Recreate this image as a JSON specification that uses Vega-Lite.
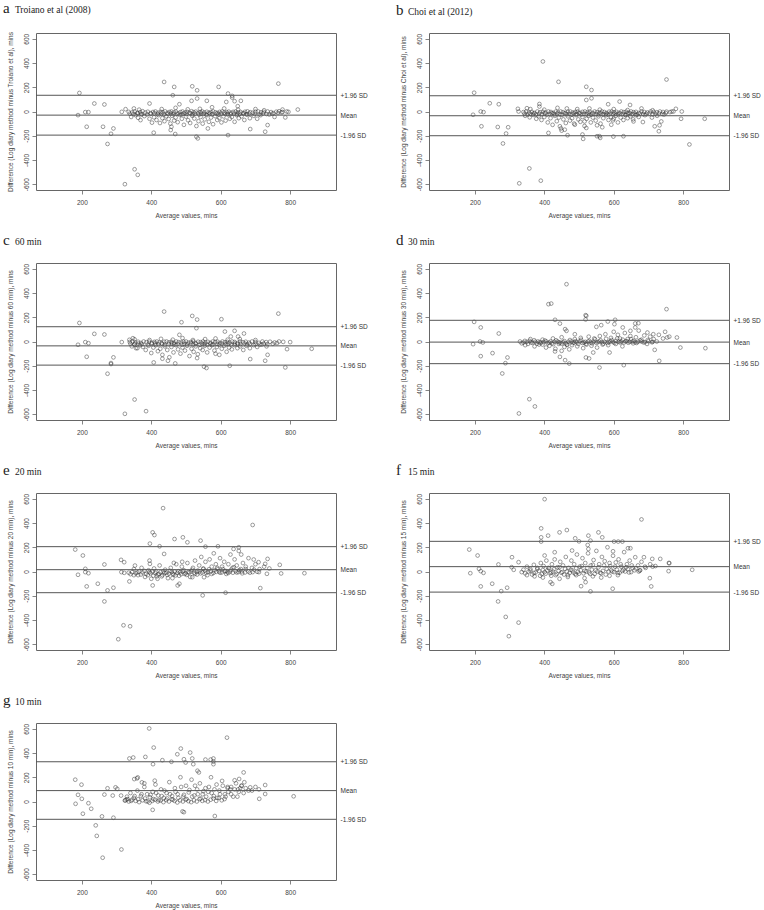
{
"$schema": "https://vega.github.io/schema/vega-lite/v6.json",
"background": "white",
"padding": {"left": 2, "top": 0, "right": 0, "bottom": 0},
"columns": 2,
"bounds": "flush",
"spacing": {"row": 73, "column": 93},
"config": {
 "view": {"stroke": "#666", "strokeWidth": 1},
 "axis": {"labelFont": "Liberation Sans", "titleFont": "Liberation Sans", "labelFontSize": 6.5, "titleFontSize": 6.5, "labelColor": "#444", "titleColor": "#444", "titleFontWeight": "normal", "tickColor": "#666", "tickSize": 4, "tickWidth": 0.8, "domain": false, "grid": false},
 "axisX": {"labelPadding": 5, "titlePadding": 7},
 "axisLeft": {"labelAngle": 270, "labelAlign": "center", "labelBaseline": "bottom", "labelPadding": 3, "titlePadding": 10, "labelExpr": "replace(datum.label, '\u2212', '-')"},
 "axisRight": {"ticks": false, "labelPadding": 4, "labelColor": "#333"},
 "title": {"anchor": "start", "frame": "bounds", "font": "Liberation Serif", "fontSize": 15, "fontWeight": "normal", "color": "#222", "subtitleFont": "Liberation Serif", "subtitleFontSize": 9.5, "subtitleColor": "#222", "subtitlePadding": -11, "offset": 15, "dx": -4},
 "point": {"shape": "circle", "size": 14, "strokeWidth": 0.6, "color": "#333", "opacity": 0.8, "filled": false},
 "rule": {"color": "#555", "strokeWidth": 1}
},
"concat": [
 {"title": {"text": "a", "subtitle": "\u200b\u00a0\u00a0\u00a0\u00a0\u00a0Troiano et al (2008)"}, "width": 300, "height": 157,
  "layer": [
   {"data": {"name": "a"}, "mark": "point",
    "encoding": {"x": {"field": "x", "type": "quantitative", "scale": {"domain": [68, 932], "nice": false, "zero": false}, "axis": {"title": "Average values, mins", "values": [200, 400, 600, 800]}},
                 "y": {"field": "y", "type": "quantitative", "scale": {"domain": [-648, 648], "nice": false, "zero": false}, "axis": {"title": "Difference (Log diary method minus Troiano et al), mins", "values": [-600, -400, -200, 0, 200, 400, 600]}}}},
   {"data": {"values": [{"v": 134}, {"v": -30}, {"v": -195}]}, "mark": "rule",
    "encoding": {"y": {"field": "v", "type": "quantitative", "scale": {"domain": [-648, 648], "nice": false, "zero": false}, "axis": {"orient": "right", "title": null, "values": [134, -30, -195], "labelExpr": "datum.value == 134 ? '+1.96 SD' : datum.value == -30 ? 'Mean' : '-1.96 SD'"}}}}
  ], "resolve": {"axis": {"y": "independent"}}},
 {"title": {"text": "b", "subtitle": "\u200b\u00a0\u00a0\u00a0\u00a0\u00a0Choi et al (2012)"}, "width": 300, "height": 157,
  "layer": [
   {"data": {"name": "b"}, "mark": "point",
    "encoding": {"x": {"field": "x", "type": "quantitative", "scale": {"domain": [68, 932], "nice": false, "zero": false}, "axis": {"title": "Average values, mins", "values": [200, 400, 600, 800]}},
                 "y": {"field": "y", "type": "quantitative", "scale": {"domain": [-648, 648], "nice": false, "zero": false}, "axis": {"title": "Difference (Log diary method minus Choi et al), mins", "values": [-600, -400, -200, 0, 200, 400, 600]}}}},
   {"data": {"values": [{"v": 130}, {"v": -35}, {"v": -200}]}, "mark": "rule",
    "encoding": {"y": {"field": "v", "type": "quantitative", "scale": {"domain": [-648, 648], "nice": false, "zero": false}, "axis": {"orient": "right", "title": null, "values": [130, -35, -200], "labelExpr": "datum.value == 130 ? '+1.96 SD' : datum.value == -35 ? 'Mean' : '-1.96 SD'"}}}}
  ], "resolve": {"axis": {"y": "independent"}}},
 {"title": {"text": "c", "subtitle": "\u200b\u00a0\u00a0\u00a0\u00a0\u00a060 min"}, "width": 300, "height": 157,
  "layer": [
   {"data": {"name": "c"}, "mark": "point",
    "encoding": {"x": {"field": "x", "type": "quantitative", "scale": {"domain": [68, 932], "nice": false, "zero": false}, "axis": {"title": "Average values, mins", "values": [200, 400, 600, 800]}},
                 "y": {"field": "y", "type": "quantitative", "scale": {"domain": [-648, 648], "nice": false, "zero": false}, "axis": {"title": "Difference (Log diary method minus 60 min), mins", "values": [-600, -400, -200, 0, 200, 400, 600]}}}},
   {"data": {"values": [{"v": 122}, {"v": -36}, {"v": -195}]}, "mark": "rule",
    "encoding": {"y": {"field": "v", "type": "quantitative", "scale": {"domain": [-648, 648], "nice": false, "zero": false}, "axis": {"orient": "right", "title": null, "values": [122, -36, -195], "labelExpr": "datum.value == 122 ? '+1.96 SD' : datum.value == -36 ? 'Mean' : '-1.96 SD'"}}}}
  ], "resolve": {"axis": {"y": "independent"}}},
 {"title": {"text": "d", "subtitle": "\u200b\u00a0\u00a0\u00a0\u00a0\u00a030 min"}, "width": 300, "height": 157,
  "layer": [
   {"data": {"name": "d"}, "mark": "point",
    "encoding": {"x": {"field": "x", "type": "quantitative", "scale": {"domain": [68, 932], "nice": false, "zero": false}, "axis": {"title": "Average values, mins", "values": [200, 400, 600, 800]}},
                 "y": {"field": "y", "type": "quantitative", "scale": {"domain": [-648, 648], "nice": false, "zero": false}, "axis": {"title": "Difference (Log diary method minus 30 min), mins", "values": [-600, -400, -200, 0, 200, 400, 600]}}}},
   {"data": {"values": [{"v": 175}, {"v": -5}, {"v": -183}]}, "mark": "rule",
    "encoding": {"y": {"field": "v", "type": "quantitative", "scale": {"domain": [-648, 648], "nice": false, "zero": false}, "axis": {"orient": "right", "title": null, "values": [175, -5, -183], "labelExpr": "datum.value == 175 ? '+1.96 SD' : datum.value == -5 ? 'Mean' : '-1.96 SD'"}}}}
  ], "resolve": {"axis": {"y": "independent"}}},
 {"title": {"text": "e", "subtitle": "\u200b\u00a0\u00a0\u00a0\u00a0\u00a020 min"}, "width": 300, "height": 157,
  "layer": [
   {"data": {"name": "e"}, "mark": "point",
    "encoding": {"x": {"field": "x", "type": "quantitative", "scale": {"domain": [68, 932], "nice": false, "zero": false}, "axis": {"title": "Average values, mins", "values": [200, 400, 600, 800]}},
                 "y": {"field": "y", "type": "quantitative", "scale": {"domain": [-648, 648], "nice": false, "zero": false}, "axis": {"title": "Difference (Log diary method minus 20 min), mins", "values": [-600, -400, -200, 0, 200, 400, 600]}}}},
   {"data": {"values": [{"v": 205}, {"v": 15}, {"v": -175}]}, "mark": "rule",
    "encoding": {"y": {"field": "v", "type": "quantitative", "scale": {"domain": [-648, 648], "nice": false, "zero": false}, "axis": {"orient": "right", "title": null, "values": [205, 15, -175], "labelExpr": "datum.value == 205 ? '+1.96 SD' : datum.value == 15 ? 'Mean' : '-1.96 SD'"}}}}
  ], "resolve": {"axis": {"y": "independent"}}},
 {"title": {"text": "f", "subtitle": "\u200b\u00a0\u00a0\u00a0\u00a0\u00a015 min"}, "width": 300, "height": 157,
  "layer": [
   {"data": {"name": "f"}, "mark": "point",
    "encoding": {"x": {"field": "x", "type": "quantitative", "scale": {"domain": [68, 932], "nice": false, "zero": false}, "axis": {"title": "Average values, mins", "values": [200, 400, 600, 800]}},
                 "y": {"field": "y", "type": "quantitative", "scale": {"domain": [-648, 648], "nice": false, "zero": false}, "axis": {"title": "Difference (Log diary method minus 15 min), mins", "values": [-600, -400, -200, 0, 200, 400, 600]}}}},
   {"data": {"values": [{"v": 249}, {"v": 40}, {"v": -170}]}, "mark": "rule",
    "encoding": {"y": {"field": "v", "type": "quantitative", "scale": {"domain": [-648, 648], "nice": false, "zero": false}, "axis": {"orient": "right", "title": null, "values": [249, 40, -170], "labelExpr": "datum.value == 249 ? '+1.96 SD' : datum.value == 40 ? 'Mean' : '-1.96 SD'"}}}}
  ], "resolve": {"axis": {"y": "independent"}}},
 {"title": {"text": "g", "subtitle": "\u200b\u00a0\u00a0\u00a0\u00a0\u00a010 min"}, "width": 300, "height": 157,
  "layer": [
   {"data": {"name": "g"}, "mark": "point",
    "encoding": {"x": {"field": "x", "type": "quantitative", "scale": {"domain": [68, 932], "nice": false, "zero": false}, "axis": {"title": "Average values, mins", "values": [200, 400, 600, 800]}},
                 "y": {"field": "y", "type": "quantitative", "scale": {"domain": [-648, 648], "nice": false, "zero": false}, "axis": {"title": "Difference (Log diary method minus 10 min), mins", "values": [-600, -400, -200, 0, 200, 400, 600]}}}},
   {"data": {"values": [{"v": 328}, {"v": 90}, {"v": -147}]}, "mark": "rule",
    "encoding": {"y": {"field": "v", "type": "quantitative", "scale": {"domain": [-648, 648], "nice": false, "zero": false}, "axis": {"orient": "right", "title": null, "values": [328, 90, -147], "labelExpr": "datum.value == 328 ? '+1.96 SD' : datum.value == 90 ? 'Mean' : '-1.96 SD'"}}}}
  ], "resolve": {"axis": {"y": "independent"}}}
],
"datasets": {
"a": [
{"x":193,"y":153},{"x":189,"y":-30},{"x":210,"y":-5},{"x":219,"y":-5},{"x":236,"y":66},{"x":265,"y":58},{"x":214,"y":-126},{"x":261,"y":-126},{"x":291,"y":-140},{"x":284,"y":-184},{"x":274,"y":-268},{"x":324,"y":-600},{"x":352,"y":-477},{"x":361,"y":-523},{"x":437,"y":244},{"x":466,"y":203},{"x":462,"y":134},{"x":518,"y":208},{"x":532,"y":175},{"x":594,"y":203},{"x":766,"y":230},{"x":621,"y":148},{"x":633,"y":129},{"x":633,"y":115},{"x":532,"y":107},{"x":516,"y":88},{"x":481,"y":60},{"x":560,"y":88},{"x":616,"y":79},{"x":640,"y":85},{"x":649,"y":44},{"x":658,"y":88},{"x":822,"y":16},{"x":778,"y":16},{"x":795,"y":-3},{"x":786,"y":-49},{"x":735,"y":-112},{"x":728,"y":-167},{"x":685,"y":-145},{"x":621,"y":-195},{"x":469,"y":-186},{"x":407,"y":-175},{"x":456,"y":-153},{"x":458,"y":-126},{"x":530,"y":-208},{"x":534,"y":-222},{"x":563,"y":-140},{"x":395,"y":66},{"x":326,"y":19},{"x":315,"y":-3},{"x":369,"y":-71},
{"x":335,"y":-3},{"x":345,"y":-8},{"x":352,"y":0},{"x":360,"y":-12},{"x":368,"y":-5},{"x":375,"y":2},{"x":383,"y":-9},{"x":390,"y":-2},{"x":398,"y":-14},{"x":405,"y":-4},{"x":412,"y":0},{"x":420,"y":-10},{"x":427,"y":-3},{"x":433,"y":-7},{"x":440,"y":1},{"x":446,"y":-12},{"x":452,"y":-4},{"x":458,"y":0},{"x":465,"y":-8},{"x":471,"y":-2},{"x":478,"y":-15},{"x":484,"y":-5},{"x":490,"y":0},{"x":497,"y":-9},{"x":503,"y":-3},{"x":510,"y":-11},{"x":516,"y":2},{"x":522,"y":-6},{"x":528,"y":-1},{"x":535,"y":-13},{"x":541,"y":-4},{"x":547,"y":0},{"x":553,"y":-8},{"x":560,"y":-2},{"x":566,"y":-10},{"x":572,"y":-4},{"x":578,"y":1},{"x":585,"y":-7},{"x":591,"y":-12},{"x":597,"y":-3},{"x":604,"y":0},{"x":610,"y":-9},{"x":617,"y":-5},{"x":623,"y":-1},{"x":630,"y":-11},{"x":636,"y":-3},{"x":643,"y":0},{"x":650,"y":-8},{"x":657,"y":-4},{"x":664,"y":-13},{"x":670,"y":-2},{"x":677,"y":1},{"x":685,"y":-6},{"x":692,"y":-10},{"x":700,"y":-2},{"x":708,"y":0},{"x":716,"y":-7},{"x":724,"y":-3},{"x":735,"y":0},{"x":745,"y":-5},{"x":752,"y":-14},{"x":760,"y":-2},{"x":768,"y":2},{"x":778,"y":-4},{"x":790,"y":0},
{"x":338,"y":-18},{"x":349,"y":-22},{"x":361,"y":-16},{"x":371,"y":-20},{"x":388,"y":-24},{"x":399,"y":-19},{"x":409,"y":-15},{"x":418,"y":-22},{"x":429,"y":-18},{"x":437,"y":-25},{"x":448,"y":-20},{"x":457,"y":-16},{"x":463,"y":-22},{"x":474,"y":-19},{"x":487,"y":-24},{"x":493,"y":-17},{"x":501,"y":-21},{"x":513,"y":-15},{"x":519,"y":-23},{"x":526,"y":-18},{"x":538,"y":-26},{"x":544,"y":-16},{"x":551,"y":-20},{"x":558,"y":-24},{"x":569,"y":-17},{"x":575,"y":-22},{"x":588,"y":-19},{"x":594,"y":-25},{"x":601,"y":-16},{"x":613,"y":-21},{"x":620,"y":-18},{"x":628,"y":-24},{"x":639,"y":-17},{"x":647,"y":-22},{"x":655,"y":-19},{"x":667,"y":-16},{"x":674,"y":-23},{"x":682,"y":-18},{"x":698,"y":-20},{"x":711,"y":-24},{"x":722,"y":-16},{"x":732,"y":-21},{"x":748,"y":-18},{"x":765,"y":-12},{"x":775,"y":-8},
{"x":342,"y":-45},{"x":355,"y":-30},{"x":362,"y":-52},{"x":372,"y":-25},{"x":380,"y":-38},{"x":395,"y":-60},{"x":402,"y":-92},{"x":408,"y":-48},{"x":415,"y":-70},{"x":421,"y":-30},{"x":425,"y":-95},{"x":432,"y":-55},{"x":438,"y":-80},{"x":443,"y":-40},{"x":450,"y":-62},{"x":455,"y":-100},{"x":460,"y":-35},{"x":466,"y":-75},{"x":470,"y":-50},{"x":476,"y":-88},{"x":482,"y":-28},{"x":488,"y":-60},{"x":494,"y":-110},{"x":500,"y":-42},{"x":506,"y":-72},{"x":512,"y":-95},{"x":518,"y":-35},{"x":524,"y":-58},{"x":530,"y":-120},{"x":536,"y":-80},{"x":542,"y":-45},{"x":548,"y":-100},{"x":554,"y":-65},{"x":560,"y":-30},{"x":566,"y":-85},{"x":572,"y":-50},{"x":578,"y":-105},{"x":584,"y":-38},{"x":590,"y":-70},{"x":596,"y":-55},{"x":602,"y":-90},{"x":608,"y":-40},{"x":614,"y":-75},{"x":620,"y":-25},{"x":626,"y":-60},{"x":632,"y":-45},{"x":640,"y":-85},{"x":646,"y":-30},{"x":652,"y":-55},{"x":660,"y":-40},{"x":668,"y":-70},{"x":676,"y":-25},{"x":684,"y":-55},{"x":695,"y":-35},{"x":705,"y":-60},{"x":715,"y":-30},{"x":740,"y":-25},{"x":755,"y":-45},
{"x":350,"y":25},{"x":365,"y":15},{"x":430,"y":20},{"x":470,"y":30},{"x":505,"y":18},{"x":540,"y":22},{"x":575,"y":35},{"x":610,"y":25},{"x":650,"y":15},{"x":700,"y":20},{"x":725,"y":10}
],
"b": [
{"x":198,"y":155},{"x":195,"y":-27},{"x":217,"y":0},{"x":225,"y":-5},{"x":243,"y":68},{"x":269,"y":60},{"x":219,"y":-122},{"x":266,"y":-128},{"x":296,"y":-130},{"x":290,"y":-182},{"x":281,"y":-264},{"x":328,"y":-593},{"x":357,"y":-470},{"x":390,"y":-571},{"x":396,"y":413},{"x":441,"y":245},{"x":521,"y":204},{"x":536,"y":177},{"x":521,"y":95},{"x":536,"y":109},{"x":752,"y":264},{"x":617,"y":82},{"x":647,"y":54},{"x":584,"y":60},{"x":386,"y":62},{"x":386,"y":41},{"x":350,"y":27},{"x":326,"y":0},{"x":324,"y":22},{"x":818,"y":-272},{"x":862,"y":-60},{"x":794,"y":-60},{"x":796,"y":0},{"x":779,"y":22},{"x":767,"y":0},{"x":732,"y":-114},{"x":730,"y":-163},{"x":718,"y":-122},{"x":684,"y":-87},{"x":599,"y":-207},{"x":628,"y":-204},{"x":559,"y":-204},{"x":561,"y":-218},{"x":552,"y":-204},{"x":512,"y":-226},{"x":510,"y":-190},{"x":467,"y":-196},{"x":412,"y":-177},{"x":450,"y":-158},{"x":459,"y":-150},{"x":445,"y":-122},{"x":521,"y":-136},{"x":516,"y":-82},{"x":488,"y":-109},{"x":552,"y":-114},{"x":567,"y":-130},{"x":593,"y":-109},{"x":598,"y":-73},{"x":657,"y":-82},{"x":737,"y":-82},
{"x":340,"y":-5},{"x":348,"y":0},{"x":356,"y":-10},{"x":364,"y":-3},{"x":372,"y":-12},{"x":380,"y":0},{"x":388,"y":-6},{"x":396,"y":-2},{"x":404,"y":-10},{"x":412,"y":0},{"x":419,"y":-4},{"x":426,"y":-12},{"x":433,"y":-1},{"x":440,"y":-8},{"x":447,"y":0},{"x":454,"y":-5},{"x":461,"y":-13},{"x":468,"y":-2},{"x":475,"y":0},{"x":482,"y":-9},{"x":489,"y":-4},{"x":496,"y":0},{"x":503,"y":-11},{"x":510,"y":-3},{"x":517,"y":0},{"x":524,"y":-7},{"x":531,"y":-2},{"x":538,"y":-12},{"x":545,"y":0},{"x":552,"y":-5},{"x":559,"y":-9},{"x":566,"y":0},{"x":573,"y":-4},{"x":580,"y":-13},{"x":587,"y":-1},{"x":594,"y":0},{"x":601,"y":-8},{"x":608,"y":-3},{"x":615,"y":-11},{"x":622,"y":0},{"x":629,"y":-5},{"x":636,"y":-2},{"x":643,"y":-10},{"x":650,"y":0},{"x":657,"y":-6},{"x":664,"y":-3},{"x":672,"y":-12},{"x":680,"y":0},{"x":688,"y":-4},{"x":697,"y":-8},{"x":706,"y":0},{"x":715,"y":-3},{"x":724,"y":-6},{"x":733,"y":0},{"x":742,"y":-4},{"x":752,"y":-1},{"x":762,"y":-5},{"x":772,"y":0},
{"x":343,"y":-18},{"x":352,"y":-24},{"x":360,"y":-20},{"x":369,"y":-16},{"x":376,"y":-25},{"x":385,"y":-19},{"x":393,"y":-22},{"x":401,"y":-17},{"x":408,"y":-26},{"x":415,"y":-20},{"x":422,"y":-15},{"x":429,"y":-23},{"x":437,"y":-18},{"x":444,"y":-21},{"x":451,"y":-27},{"x":458,"y":-16},{"x":465,"y":-22},{"x":472,"y":-19},{"x":479,"y":-25},{"x":486,"y":-17},{"x":493,"y":-21},{"x":500,"y":-15},{"x":507,"y":-24},{"x":514,"y":-19},{"x":521,"y":-22},{"x":528,"y":-16},{"x":535,"y":-26},{"x":542,"y":-18},{"x":549,"y":-21},{"x":556,"y":-24},{"x":563,"y":-17},{"x":570,"y":-22},{"x":577,"y":-19},{"x":584,"y":-25},{"x":591,"y":-16},{"x":598,"y":-21},{"x":605,"y":-18},{"x":612,"y":-23},{"x":619,"y":-17},{"x":626,"y":-20},{"x":633,"y":-26},{"x":640,"y":-19},{"x":647,"y":-16},{"x":654,"y":-22},{"x":661,"y":-18},{"x":668,"y":-24},{"x":676,"y":-17},{"x":685,"y":-21},{"x":694,"y":-19},{"x":703,"y":-16},{"x":712,"y":-22},{"x":720,"y":-18},{"x":730,"y":-15},{"x":740,"y":-20},{"x":750,"y":-12},
{"x":345,"y":-35},{"x":358,"y":-48},{"x":368,"y":-28},{"x":377,"y":-60},{"x":384,"y":-40},{"x":392,"y":-70},{"x":400,"y":-45},{"x":410,"y":-90},{"x":418,"y":-55},{"x":424,"y":-110},{"x":430,"y":-35},{"x":436,"y":-80},{"x":442,"y":-50},{"x":448,"y":-140},{"x":455,"y":-65},{"x":462,"y":-95},{"x":468,"y":-40},{"x":474,"y":-75},{"x":480,"y":-55},{"x":486,"y":-100},{"x":492,"y":-30},{"x":498,"y":-65},{"x":504,"y":-85},{"x":510,"y":-45},{"x":516,"y":-120},{"x":522,"y":-60},{"x":528,"y":-35},{"x":534,"y":-90},{"x":540,"y":-50},{"x":548,"y":-75},{"x":556,"y":-40},{"x":562,"y":-100},{"x":570,"y":-55},{"x":578,"y":-30},{"x":585,"y":-70},{"x":592,"y":-45},{"x":600,"y":-60},{"x":606,"y":-35},{"x":612,"y":-90},{"x":620,"y":-50},{"x":628,"y":-70},{"x":634,"y":-30},{"x":640,"y":-55},{"x":648,"y":-40},{"x":656,"y":-65},{"x":664,"y":-30},{"x":672,"y":-45},{"x":690,"y":-30},{"x":710,"y":-50},{"x":725,"y":-35},{"x":745,"y":-25},
{"x":360,"y":20},{"x":400,"y":15},{"x":438,"y":30},{"x":465,"y":25},{"x":495,"y":20},{"x":530,"y":25},{"x":560,"y":15},{"x":600,"y":20},{"x":640,"y":12},{"x":680,"y":25},{"x":712,"y":10}
],
"c": [
{"x":193,"y":153},{"x":189,"y":-27},{"x":210,"y":-5},{"x":219,"y":-14},{"x":236,"y":63},{"x":265,"y":58},{"x":214,"y":-126},{"x":291,"y":-131},{"x":284,"y":-178},{"x":284,"y":-186},{"x":274,"y":-266},{"x":324,"y":-597},{"x":352,"y":-479},{"x":385,"y":-575},{"x":437,"y":247},{"x":518,"y":211},{"x":532,"y":181},{"x":530,"y":110},{"x":487,"y":159},{"x":602,"y":184},{"x":766,"y":230},{"x":481,"y":55},{"x":612,"y":82},{"x":640,"y":88},{"x":667,"y":66},{"x":650,"y":41},{"x":629,"y":41},{"x":800,"y":-5},{"x":791,"y":-63},{"x":862,"y":-60},{"x":786,"y":-214},{"x":735,"y":-110},{"x":728,"y":-159},{"x":685,"y":-145},{"x":626,"y":-200},{"x":552,"y":-208},{"x":559,"y":-219},{"x":469,"y":-181},{"x":407,"y":-173},{"x":448,"y":-159},{"x":432,"y":-142},{"x":532,"y":-137},{"x":585,"y":-101},{"x":315,"y":-5},{"x":337,"y":14},{"x":347,"y":27},{"x":356,"y":-55},
{"x":338,"y":-4},{"x":346,"y":0},{"x":354,"y":-9},{"x":362,"y":-2},{"x":370,"y":-12},{"x":378,"y":0},{"x":386,"y":-6},{"x":394,"y":-1},{"x":402,"y":-11},{"x":409,"y":-3},{"x":416,"y":0},{"x":423,"y":-8},{"x":430,"y":-14},{"x":437,"y":-2},{"x":444,"y":0},{"x":451,"y":-7},{"x":458,"y":-3},{"x":465,"y":-12},{"x":472,"y":0},{"x":479,"y":-5},{"x":486,"y":-9},{"x":493,"y":-1},{"x":500,"y":0},{"x":507,"y":-10},{"x":514,"y":-4},{"x":521,"y":0},{"x":528,"y":-13},{"x":535,"y":-2},{"x":542,"y":-6},{"x":549,"y":0},{"x":556,"y":-9},{"x":563,"y":-3},{"x":570,"y":-11},{"x":577,"y":0},{"x":584,"y":-5},{"x":591,"y":-2},{"x":598,"y":-12},{"x":605,"y":0},{"x":612,"y":-6},{"x":619,"y":-3},{"x":626,"y":-10},{"x":633,"y":0},{"x":640,"y":-4},{"x":648,"y":-13},{"x":656,"y":0},{"x":664,"y":-6},{"x":672,"y":-2},{"x":681,"y":-9},{"x":690,"y":0},{"x":700,"y":-4},{"x":710,"y":-11},{"x":720,"y":0},{"x":731,"y":-5},{"x":742,"y":-2},{"x":755,"y":-8},{"x":768,"y":0},{"x":780,"y":-3},
{"x":340,"y":-19},{"x":351,"y":-23},{"x":363,"y":-17},{"x":373,"y":-21},{"x":390,"y":-25},{"x":401,"y":-18},{"x":411,"y":-16},{"x":420,"y":-23},{"x":431,"y":-19},{"x":439,"y":-26},{"x":450,"y":-21},{"x":459,"y":-17},{"x":466,"y":-23},{"x":476,"y":-20},{"x":489,"y":-25},{"x":495,"y":-18},{"x":503,"y":-22},{"x":515,"y":-16},{"x":521,"y":-24},{"x":528,"y":-19},{"x":540,"y":-27},{"x":546,"y":-17},{"x":553,"y":-21},{"x":560,"y":-25},{"x":571,"y":-18},{"x":577,"y":-23},{"x":590,"y":-20},{"x":596,"y":-26},{"x":603,"y":-17},{"x":615,"y":-22},{"x":622,"y":-19},{"x":630,"y":-25},{"x":641,"y":-18},{"x":649,"y":-23},{"x":657,"y":-20},{"x":669,"y":-17},{"x":676,"y":-24},{"x":684,"y":-19},{"x":700,"y":-21},{"x":713,"y":-25},{"x":724,"y":-17},{"x":734,"y":-22},{"x":750,"y":-19},{"x":762,"y":-13},
{"x":344,"y":-40},{"x":352,"y":-25},{"x":360,"y":-55},{"x":368,"y":-30},{"x":376,"y":-45},{"x":384,"y":-70},{"x":392,"y":-35},{"x":400,"y":-95},{"x":406,"y":-50},{"x":413,"y":-30},{"x":419,"y":-80},{"x":426,"y":-60},{"x":432,"y":-110},{"x":439,"y":-40},{"x":446,"y":-70},{"x":452,"y":-130},{"x":458,"y":-45},{"x":464,"y":-90},{"x":471,"y":-30},{"x":477,"y":-65},{"x":484,"y":-100},{"x":490,"y":-50},{"x":497,"y":-75},{"x":503,"y":-35},{"x":510,"y":-120},{"x":516,"y":-60},{"x":522,"y":-85},{"x":528,"y":-40},{"x":534,"y":-105},{"x":541,"y":-55},{"x":548,"y":-70},{"x":554,"y":-35},{"x":561,"y":-90},{"x":568,"y":-50},{"x":575,"y":-30},{"x":582,"y":-75},{"x":589,"y":-45},{"x":596,"y":-110},{"x":603,"y":-60},{"x":610,"y":-35},{"x":617,"y":-85},{"x":624,"y":-50},{"x":632,"y":-65},{"x":640,"y":-30},{"x":648,"y":-55},{"x":656,"y":-40},{"x":665,"y":-70},{"x":674,"y":-35},{"x":684,"y":-55},{"x":695,"y":-30},{"x":705,"y":-45},{"x":718,"y":-25},{"x":732,"y":-40},
{"x":352,"y":18},{"x":395,"y":12},{"x":428,"y":22},{"x":462,"y":15},{"x":490,"y":28},{"x":520,"y":12},{"x":555,"y":20},{"x":585,"y":25},{"x":620,"y":15},{"x":655,"y":20},{"x":700,"y":12}
],
"d": [
{"x":198,"y":162},{"x":195,"y":-22},{"x":217,"y":116},{"x":215,"y":0},{"x":223,"y":-8},{"x":217,"y":-121},{"x":251,"y":-96},{"x":269,"y":66},{"x":294,"y":-132},{"x":288,"y":-179},{"x":279,"y":-264},{"x":327,"y":-594},{"x":357,"y":-476},{"x":373,"y":-536},{"x":464,"y":473},{"x":412,"y":308},{"x":420,"y":313},{"x":431,"y":179},{"x":445,"y":148},{"x":519,"y":217},{"x":521,"y":212},{"x":519,"y":182},{"x":488,"y":60},{"x":460,"y":102},{"x":464,"y":88},{"x":752,"y":267},{"x":583,"y":165},{"x":550,"y":121},{"x":564,"y":135},{"x":602,"y":143},{"x":604,"y":179},{"x":626,"y":116},{"x":662,"y":149},{"x":662,"y":116},{"x":648,"y":88},{"x":697,"y":74},{"x":714,"y":60},{"x":748,"y":80},{"x":754,"y":33},{"x":782,"y":33},{"x":792,"y":-50},{"x":864,"y":-55},{"x":731,"y":-160},{"x":718,"y":-69},{"x":671,"y":151},{"x":559,"y":-215},{"x":629,"y":-195},{"x":472,"y":-182},{"x":460,"y":-154},{"x":445,"y":-127},{"x":520,"y":-132},{"x":529,"y":-140},{"x":541,"y":-91},{"x":588,"y":-91},{"x":450,"y":-77},{"x":431,"y":-82},
{"x":330,"y":0},{"x":340,"y":-8},{"x":350,"y":-3},{"x":358,"y":5},{"x":366,"y":-10},{"x":374,"y":-2},{"x":382,"y":0},{"x":390,"y":-12},{"x":398,"y":-5},{"x":406,"y":0},{"x":414,"y":-8},{"x":422,"y":-15},{"x":430,"y":-3},{"x":438,"y":0},{"x":446,"y":-10},{"x":454,"y":-5},{"x":462,"y":-14},{"x":470,"y":-2},{"x":478,"y":0},{"x":486,"y":-9},{"x":494,"y":-4},{"x":502,"y":0},{"x":510,"y":-12},{"x":518,"y":-3},{"x":526,"y":0},{"x":534,"y":-7},{"x":542,"y":-2},{"x":550,"y":-10},{"x":558,"y":0},{"x":566,"y":-5},{"x":574,"y":-3},{"x":582,"y":-12},{"x":590,"y":0},{"x":598,"y":-4},{"x":606,"y":5},{"x":614,"y":-2},{"x":622,"y":0},{"x":630,"y":-8},{"x":638,"y":3},{"x":646,"y":-3},{"x":654,"y":0},{"x":662,"y":-6},{"x":670,"y":-2},{"x":680,"y":0},{"x":690,"y":-5},{"x":700,"y":2},{"x":712,"y":-3},{"x":724,"y":0},
{"x":335,"y":-15},{"x":344,"y":5},{"x":353,"y":-20},{"x":362,"y":-8},{"x":371,"y":10},{"x":379,"y":-18},{"x":387,"y":-5},{"x":395,"y":-25},{"x":402,"y":8},{"x":410,"y":-15},{"x":418,"y":0},{"x":426,"y":-22},{"x":434,"y":10},{"x":442,"y":-6},{"x":450,"y":-18},{"x":458,"y":3},{"x":466,"y":-28},{"x":474,"y":12},{"x":482,"y":-12},{"x":490,"y":2},{"x":498,"y":-20},{"x":506,"y":14},{"x":514,"y":-8},{"x":522,"y":-25},{"x":530,"y":5},{"x":538,"y":-15},{"x":546,"y":18},{"x":554,"y":-6},{"x":562,"y":10},{"x":570,"y":-18},{"x":578,"y":22},{"x":586,"y":-5},{"x":594,"y":12},{"x":602,"y":-12},{"x":610,"y":25},{"x":618,"y":-8},{"x":626,"y":15},{"x":634,"y":2},{"x":642,"y":-10},{"x":650,"y":20},{"x":658,"y":5},{"x":666,"y":-12},{"x":676,"y":10},{"x":686,"y":-8},{"x":698,"y":12},{"x":710,"y":-6},
{"x":345,"y":-30},{"x":360,"y":20},{"x":372,"y":-40},{"x":385,"y":-25},{"x":395,"y":15},{"x":405,"y":-50},{"x":415,"y":-35},{"x":425,"y":25},{"x":432,"y":-60},{"x":442,"y":-20},{"x":450,"y":35},{"x":458,"y":-45},{"x":465,"y":-25},{"x":472,"y":-65},{"x":480,"y":-30},{"x":488,"y":20},{"x":495,"y":-40},{"x":505,"y":30},{"x":512,"y":-55},{"x":520,"y":-20},{"x":528,"y":40},{"x":536,"y":-35},{"x":544,"y":25},{"x":552,"y":-50},{"x":560,"y":45},{"x":568,"y":-25},{"x":576,"y":60},{"x":584,"y":-30},{"x":592,"y":30},{"x":600,"y":80},{"x":606,"y":-20},{"x":612,"y":55},{"x":618,"y":25},{"x":625,"y":-40},{"x":632,"y":70},{"x":640,"y":20},{"x":648,"y":45},{"x":656,"y":-15},{"x":664,"y":35},{"x":672,"y":90},{"x":680,"y":15},{"x":688,"y":50},{"x":696,"y":-20},{"x":705,"y":40},{"x":715,"y":20},{"x":730,"y":55},{"x":742,"y":25},{"x":760,"y":40}
],
"e": [
{"x":181,"y":181},{"x":189,"y":-27},{"x":203,"y":132},{"x":210,"y":22},{"x":210,"y":-5},{"x":219,"y":-14},{"x":214,"y":-123},{"x":246,"y":-101},{"x":265,"y":58},{"x":274,"y":-156},{"x":265,"y":-247},{"x":291,"y":-134},{"x":305,"y":-559},{"x":320,"y":-444},{"x":339,"y":-452},{"x":313,"y":96},{"x":322,"y":77},{"x":314,"y":-5},{"x":322,"y":-11},{"x":337,"y":-82},{"x":353,"y":49},{"x":396,"y":230},{"x":404,"y":323},{"x":409,"y":301},{"x":424,"y":208},{"x":434,"y":523},{"x":437,"y":145},{"x":395,"y":90},{"x":396,"y":63},{"x":467,"y":268},{"x":491,"y":282},{"x":504,"y":241},{"x":542,"y":255},{"x":556,"y":205},{"x":592,"y":208},{"x":637,"y":186},{"x":652,"y":200},{"x":659,"y":140},{"x":692,"y":384},{"x":695,"y":99},{"x":709,"y":77},{"x":735,"y":104},{"x":728,"y":63},{"x":733,"y":-19},{"x":714,"y":-137},{"x":770,"y":55},{"x":774,"y":-16},{"x":841,"y":-14},{"x":548,"y":-197},{"x":614,"y":-175},{"x":481,"y":-101},{"x":476,"y":-115},{"x":404,"y":-115},{"x":418,"y":-60},{"x":461,"y":-55},{"x":518,"y":-47},{"x":552,"y":-47},{"x":465,"y":71},{"x":489,"y":80},
{"x":335,"y":-10},{"x":345,"y":-5},{"x":355,"y":-15},{"x":365,"y":0},{"x":375,"y":-8},{"x":385,"y":-20},{"x":395,"y":-5},{"x":403,"y":0},{"x":411,"y":-12},{"x":419,"y":-25},{"x":427,"y":-5},{"x":435,"y":0},{"x":443,"y":-10},{"x":451,"y":-18},{"x":459,"y":-3},{"x":467,"y":0},{"x":475,"y":-12},{"x":483,"y":-6},{"x":491,"y":0},{"x":499,"y":-15},{"x":507,"y":-5},{"x":515,"y":0},{"x":523,"y":-10},{"x":531,"y":-3},{"x":539,"y":0},{"x":547,"y":-8},{"x":555,"y":5},{"x":563,"y":-5},{"x":571,"y":0},{"x":579,"y":-12},{"x":587,"y":-3},{"x":595,"y":0},{"x":603,"y":-8},{"x":611,"y":2},{"x":619,"y":-5},{"x":627,"y":0},{"x":635,"y":-10},{"x":643,"y":3},{"x":651,"y":-5},{"x":660,"y":0},{"x":670,"y":-8},{"x":680,"y":0},{"x":692,"y":-5},{"x":705,"y":-2},
{"x":340,"y":-22},{"x":350,"y":-30},{"x":360,"y":-8},{"x":370,"y":-25},{"x":380,"y":5},{"x":390,"y":-30},{"x":398,"y":-15},{"x":406,"y":-35},{"x":414,"y":-2},{"x":422,"y":-20},{"x":430,"y":-40},{"x":438,"y":-12},{"x":446,"y":-28},{"x":454,"y":5},{"x":462,"y":-18},{"x":470,"y":-32},{"x":478,"y":2},{"x":486,"y":-22},{"x":494,"y":10},{"x":502,"y":-28},{"x":510,"y":-8},{"x":518,"y":15},{"x":526,"y":-20},{"x":534,"y":8},{"x":542,"y":-15},{"x":550,"y":25},{"x":558,"y":-12},{"x":566,"y":18},{"x":574,"y":-20},{"x":582,"y":10},{"x":590,"y":30},{"x":598,"y":-10},{"x":606,"y":20},{"x":614,"y":5},{"x":622,"y":-12},{"x":630,"y":15},{"x":638,"y":35},{"x":646,"y":-8},{"x":654,"y":12},{"x":662,"y":-15},{"x":672,"y":20},{"x":684,"y":-10},{"x":696,"y":15},{"x":710,"y":-5},
{"x":350,"y":20},{"x":362,"y":-30},{"x":372,"y":30},{"x":382,"y":-45},{"x":392,"y":10},{"x":400,"y":-60},{"x":408,"y":25},{"x":416,"y":-40},{"x":424,"y":50},{"x":432,"y":-30},{"x":440,"y":15},{"x":448,"y":-55},{"x":456,"y":30},{"x":464,"y":-25},{"x":472,"y":60},{"x":480,"y":-35},{"x":488,"y":40},{"x":496,"y":-20},{"x":504,"y":70},{"x":512,"y":-45},{"x":520,"y":30},{"x":526,"y":90},{"x":532,"y":-25},{"x":538,"y":50},{"x":544,"y":120},{"x":550,"y":20},{"x":556,"y":80},{"x":562,"y":-30},{"x":568,"y":100},{"x":574,"y":40},{"x":580,"y":150},{"x":586,"y":60},{"x":592,"y":20},{"x":598,"y":110},{"x":604,"y":40},{"x":610,"y":80},{"x":616,"y":-20},{"x":622,"y":60},{"x":628,"y":140},{"x":634,"y":30},{"x":640,"y":100},{"x":646,"y":50},{"x":652,"y":170},{"x":658,"y":20},{"x":664,"y":70},{"x":672,"y":40},{"x":680,"y":110},{"x":690,"y":30},{"x":700,"y":60},{"x":712,"y":20},{"x":725,"y":40},{"x":740,"y":25}
],
"f": [
{"x":184,"y":181},{"x":187,"y":-14},{"x":208,"y":132},{"x":212,"y":22},{"x":217,"y":3},{"x":225,"y":-11},{"x":217,"y":-123},{"x":250,"y":-101},{"x":268,"y":58},{"x":293,"y":-134},{"x":276,"y":-162},{"x":267,"y":-247},{"x":289,"y":-375},{"x":298,"y":-534},{"x":326,"y":-422},{"x":306,"y":36},{"x":312,"y":14},{"x":307,"y":118},{"x":326,"y":77},{"x":401,"y":597},{"x":391,"y":356},{"x":391,"y":282},{"x":391,"y":247},{"x":411,"y":296},{"x":430,"y":159},{"x":444,"y":323},{"x":465,"y":342},{"x":480,"y":173},{"x":489,"y":274},{"x":500,"y":249},{"x":527,"y":296},{"x":533,"y":255},{"x":556,"y":323},{"x":567,"y":282},{"x":525,"y":219},{"x":527,"y":186},{"x":601,"y":247},{"x":613,"y":247},{"x":625,"y":247},{"x":641,"y":192},{"x":648,"y":192},{"x":598,"y":167},{"x":680,"y":430},{"x":687,"y":118},{"x":711,"y":104},{"x":734,"y":104},{"x":760,"y":68},{"x":758,"y":3},{"x":826,"y":14},{"x":704,"y":-55},{"x":708,"y":-123},{"x":675,"y":8},{"x":712,"y":40},{"x":533,"y":-164},{"x":597,"y":-142},{"x":506,"y":-121},{"x":519,"y":-88},{"x":418,"y":-88},{"x":423,"y":-102},{"x":401,"y":132},{"x":662,"y":118},{"x":759,"y":71},
{"x":335,"y":-5},{"x":345,"y":-15},{"x":355,"y":0},{"x":365,"y":-25},{"x":375,"y":-8},{"x":385,"y":5},{"x":393,"y":-20},{"x":401,"y":-5},{"x":409,"y":10},{"x":417,"y":-15},{"x":425,"y":0},{"x":433,"y":-30},{"x":441,"y":5},{"x":449,"y":-10},{"x":457,"y":-25},{"x":465,"y":0},{"x":473,"y":-12},{"x":481,"y":8},{"x":489,"y":-20},{"x":497,"y":-3},{"x":505,"y":10},{"x":513,"y":-15},{"x":521,"y":0},{"x":529,"y":-8},{"x":537,"y":15},{"x":545,"y":-20},{"x":553,"y":0},{"x":561,"y":-10},{"x":569,"y":5},{"x":577,"y":-25},{"x":585,"y":0},{"x":593,"y":10},{"x":601,"y":-5},{"x":609,"y":15},{"x":617,"y":-10},{"x":625,"y":5},{"x":633,"y":0},{"x":641,"y":20},{"x":650,"y":-5},{"x":660,"y":10},{"x":672,"y":0},
{"x":340,"y":15},{"x":350,"y":-30},{"x":360,"y":8},{"x":370,"y":-12},{"x":380,"y":20},{"x":388,"y":-35},{"x":396,"y":12},{"x":404,"y":-18},{"x":412,"y":30},{"x":420,"y":-8},{"x":428,"y":18},{"x":436,"y":-20},{"x":444,"y":35},{"x":452,"y":-5},{"x":460,"y":22},{"x":468,"y":-30},{"x":476,"y":15},{"x":484,"y":-8},{"x":492,"y":28},{"x":500,"y":-18},{"x":508,"y":45},{"x":516,"y":5},{"x":524,"y":30},{"x":532,"y":-20},{"x":540,"y":55},{"x":548,"y":10},{"x":556,"y":35},{"x":564,"y":-15},{"x":572,"y":50},{"x":580,"y":20},{"x":588,"y":70},{"x":596,"y":0},{"x":604,"y":40},{"x":612,"y":-12},{"x":620,"y":60},{"x":628,"y":15},{"x":636,"y":35},{"x":644,"y":-8},{"x":652,"y":50},{"x":664,"y":25},{"x":676,"y":10},{"x":690,"y":40},
{"x":350,"y":40},{"x":360,"y":20},{"x":370,"y":55},{"x":380,"y":30},{"x":390,"y":70},{"x":398,"y":45},{"x":406,"y":90},{"x":414,"y":25},{"x":422,"y":60},{"x":430,"y":100},{"x":438,"y":35},{"x":446,"y":80},{"x":454,"y":50},{"x":462,"y":120},{"x":470,"y":30},{"x":478,"y":90},{"x":486,"y":60},{"x":494,"y":140},{"x":502,"y":40},{"x":510,"y":110},{"x":518,"y":70},{"x":526,"y":150},{"x":534,"y":50},{"x":542,"y":95},{"x":550,"y":170},{"x":558,"y":60},{"x":566,"y":120},{"x":574,"y":85},{"x":582,"y":200},{"x":590,"y":45},{"x":598,"y":130},{"x":606,"y":75},{"x":614,"y":100},{"x":622,"y":40},{"x":630,"y":160},{"x":638,"y":60},{"x":646,"y":90},{"x":654,"y":30},{"x":670,"y":50},{"x":680,"y":80},{"x":692,"y":30},{"x":705,"y":60},{"x":720,"y":45},
{"x":372,"y":-40},{"x":396,"y":-50},{"x":420,"y":-35},{"x":444,"y":-60},{"x":468,"y":-45},{"x":492,"y":-30},{"x":516,"y":-55},{"x":540,"y":-40},{"x":564,"y":-50},{"x":588,"y":-35},{"x":612,"y":-30}
],
"g": [
{"x":181,"y":180},{"x":182,"y":-19},{"x":189,"y":55},{"x":199,"y":139},{"x":200,"y":22},{"x":203,"y":-101},{"x":219,"y":-14},{"x":227,"y":-60},{"x":240,"y":-197},{"x":243,"y":-284},{"x":258,"y":-123},{"x":260,"y":-464},{"x":265,"y":57},{"x":274,"y":109},{"x":289,"y":49},{"x":291,"y":-134},{"x":297,"y":117},{"x":302,"y":104},{"x":314,"y":-396},{"x":313,"y":49},{"x":324,"y":8},{"x":329,"y":16},{"x":337,"y":355},{"x":348,"y":363},{"x":359,"y":191},{"x":361,"y":199},{"x":373,"y":158},{"x":383,"y":368},{"x":394,"y":603},{"x":405,"y":308},{"x":407,"y":445},{"x":410,"y":172},{"x":432,"y":341},{"x":458,"y":328},{"x":475,"y":390},{"x":485,"y":437},{"x":494,"y":349},{"x":499,"y":322},{"x":512,"y":404},{"x":518,"y":355},{"x":521,"y":308},{"x":533,"y":254},{"x":537,"y":240},{"x":556,"y":346},{"x":571,"y":346},{"x":579,"y":355},{"x":579,"y":330},{"x":579,"y":308},{"x":618,"y":527},{"x":666,"y":240},{"x":653,"y":186},{"x":668,"y":159},{"x":728,"y":136},{"x":728,"y":62},{"x":711,"y":22},{"x":810,"y":43},{"x":685,"y":117},{"x":583,"y":-120},{"x":490,"y":-82},{"x":494,"y":-88},{"x":404,"y":-69},{"x":351,"y":185},{"x":380,"y":150},{"x":640,"y":175},{"x":630,"y":120},{"x":650,"y":100},{"x":660,"y":130},
{"x":325,"y":10},{"x":335,"y":0},{"x":345,"y":15},{"x":355,"y":5},{"x":365,"y":-5},{"x":375,"y":10},{"x":385,"y":2},{"x":395,"y":-10},{"x":403,"y":5},{"x":411,"y":15},{"x":419,"y":0},{"x":427,"y":8},{"x":435,"y":-5},{"x":443,"y":12},{"x":451,"y":0},{"x":459,"y":18},{"x":467,"y":5},{"x":475,"y":-8},{"x":483,"y":10},{"x":491,"y":0},{"x":499,"y":15},{"x":507,"y":3},{"x":515,"y":-5},{"x":523,"y":10},{"x":531,"y":0},{"x":539,"y":20},{"x":547,"y":5},{"x":555,"y":12},{"x":563,"y":0},{"x":571,"y":15},{"x":579,"y":25},{"x":587,"y":5},{"x":595,"y":30},{"x":603,"y":10},{"x":611,"y":20},
{"x":332,"y":20},{"x":342,"y":5},{"x":352,"y":45},{"x":362,"y":18},{"x":372,"y":60},{"x":382,"y":25},{"x":390,"y":0},{"x":398,"y":55},{"x":406,"y":20},{"x":414,"y":70},{"x":422,"y":12},{"x":430,"y":45},{"x":438,"y":90},{"x":446,"y":25},{"x":454,"y":60},{"x":462,"y":15},{"x":470,"y":80},{"x":478,"y":30},{"x":486,"y":120},{"x":494,"y":55},{"x":502,"y":20},{"x":510,"y":95},{"x":518,"y":40},{"x":526,"y":130},{"x":534,"y":60},{"x":542,"y":25},{"x":550,"y":85},{"x":558,"y":40},{"x":566,"y":120},{"x":574,"y":70},{"x":582,"y":100},{"x":590,"y":30},{"x":598,"y":60},{"x":606,"y":130},{"x":614,"y":40},{"x":622,"y":80},{"x":630,"y":60},{"x":640,"y":100},{"x":648,"y":40},{"x":656,"y":110},{"x":666,"y":70},{"x":680,"y":90},
{"x":330,"y":40},{"x":340,"y":70},{"x":350,"y":30},{"x":360,"y":90},{"x":370,"y":45},{"x":380,"y":120},{"x":388,"y":60},{"x":396,"y":35},{"x":404,"y":80},{"x":412,"y":140},{"x":420,"y":50},{"x":428,"y":100},{"x":436,"y":30},{"x":444,"y":70},{"x":452,"y":160},{"x":460,"y":45},{"x":468,"y":110},{"x":476,"y":60},{"x":484,"y":200},{"x":492,"y":40},{"x":500,"y":130},{"x":508,"y":75},{"x":516,"y":180},{"x":524,"y":50},{"x":532,"y":100},{"x":540,"y":150},{"x":548,"y":60},{"x":556,"y":110},{"x":564,"y":80},{"x":572,"y":200},{"x":580,"y":45},{"x":588,"y":140},{"x":596,"y":90},{"x":604,"y":170},{"x":612,"y":60},{"x":620,"y":120},{"x":628,"y":100},{"x":636,"y":40},{"x":644,"y":150},{"x":652,"y":80},{"x":660,"y":130},{"x":672,"y":110},{"x":690,"y":90},{"x":700,"y":120},{"x":710,"y":100},{"x":620,"y":110}
]
}
}
